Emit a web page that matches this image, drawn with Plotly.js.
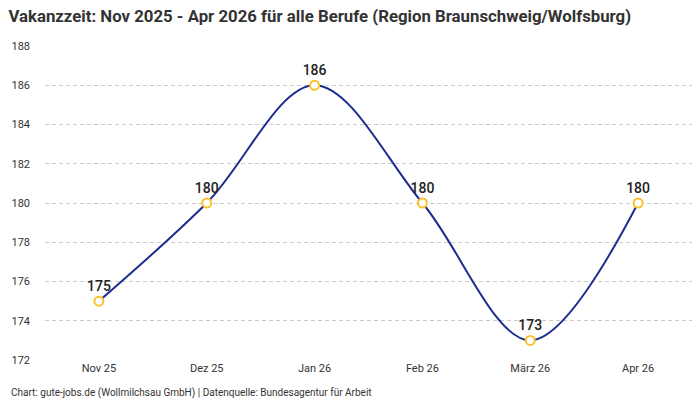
<!DOCTYPE html>
<html>
<head>
<meta charset="utf-8">
<script src="https://cdn.plot.ly/plotly-3.0.1.min.js"></script>
<style>
  html, body { margin: 0; padding: 0; background: white; }
  #chart { width: 700px; height: 400px; }
</style>
</head>
<body>
<div id="chart"></div>
<script>
const months = ['Nov 25', 'Dez 25', 'Jan 26', 'Feb 26', 'März 26', 'Apr 26'];
const vakanzzeit = [175, 180, 186, 180, 173, 180];
const yTicks = [172, 174, 176, 178, 180, 182, 184, 186, 188];

const fontFamily = 'Roboto, "Noto Sans", sans-serif';

const trace = {
    x: months,
    y: vakanzzeit,
    type: 'scatter',
    mode: 'lines+markers+text',
    line: { color: '#1c2d8f', width: 2, shape: 'spline', smoothing: 1 },
    marker: { size: 9, color: 'white', line: { color: '#fbc02d', width: 2 } },
    text: vakanzzeit.map(String),
    textposition: 'top center',
    textfont: { family: fontFamily, size: 14, color: '#222', weight: 500 },
    cliponaxis: false,
    hoverinfo: 'x+y'
};

const layout = {
    width: 700,
    height: 400,
    plot_bgcolor: 'white',
    paper_bgcolor: 'white',
    font: { family: fontFamily, color: '#333', size: 11 },
    title: {
        text: 'Vakanzzeit: Nov 2025 - Apr 2026 für alle Berufe (Region Braunschweig/Wolfsburg)',
        font: { family: fontFamily, size: 16.8, color: '#333', weight: 700 },
        x: 0.012,
        xanchor: 'left',
        y: 0.975,
        yanchor: 'top'
    },
    xaxis: {
        type: 'category',
        range: [-0.5, 5.5],
        showgrid: false,
        zeroline: false,
        showline: false,
        ticks: '',
        tickfont: { size: 11, color: '#333' },
        fixedrange: true
    },
    yaxis: {
        range: [172, 188],
        tickvals: yTicks,
        showgrid: true,
        gridcolor: '#cccccc',
        griddash: '4px,3px',
        gridwidth: 1,
        zeroline: false,
        showline: false,
        ticks: '',
        ticklabelstandoff: 14,
        tickfont: { size: 11, color: '#333' },
        fixedrange: true
    },
    margin: { l: 45, r: 8, t: 46, b: 40, pad: 0 },
    showlegend: false,
    annotations: [{
        text: 'Chart: gute-jobs.de (Wollmilchsau GmbH) | Datenquelle: Bundesagentur für Arbeit',
        xref: 'paper',
        yref: 'paper',
        x: -0.055,
        y: -0.105,
        xanchor: 'left',
        yanchor: 'middle',
        showarrow: false,
        font: { family: fontFamily, size: 10, color: '#333' }
    }]
};

Plotly.newPlot('chart', [trace], layout, { displayModeBar: false, staticPlot: true });
</script>
</body>
</html>
